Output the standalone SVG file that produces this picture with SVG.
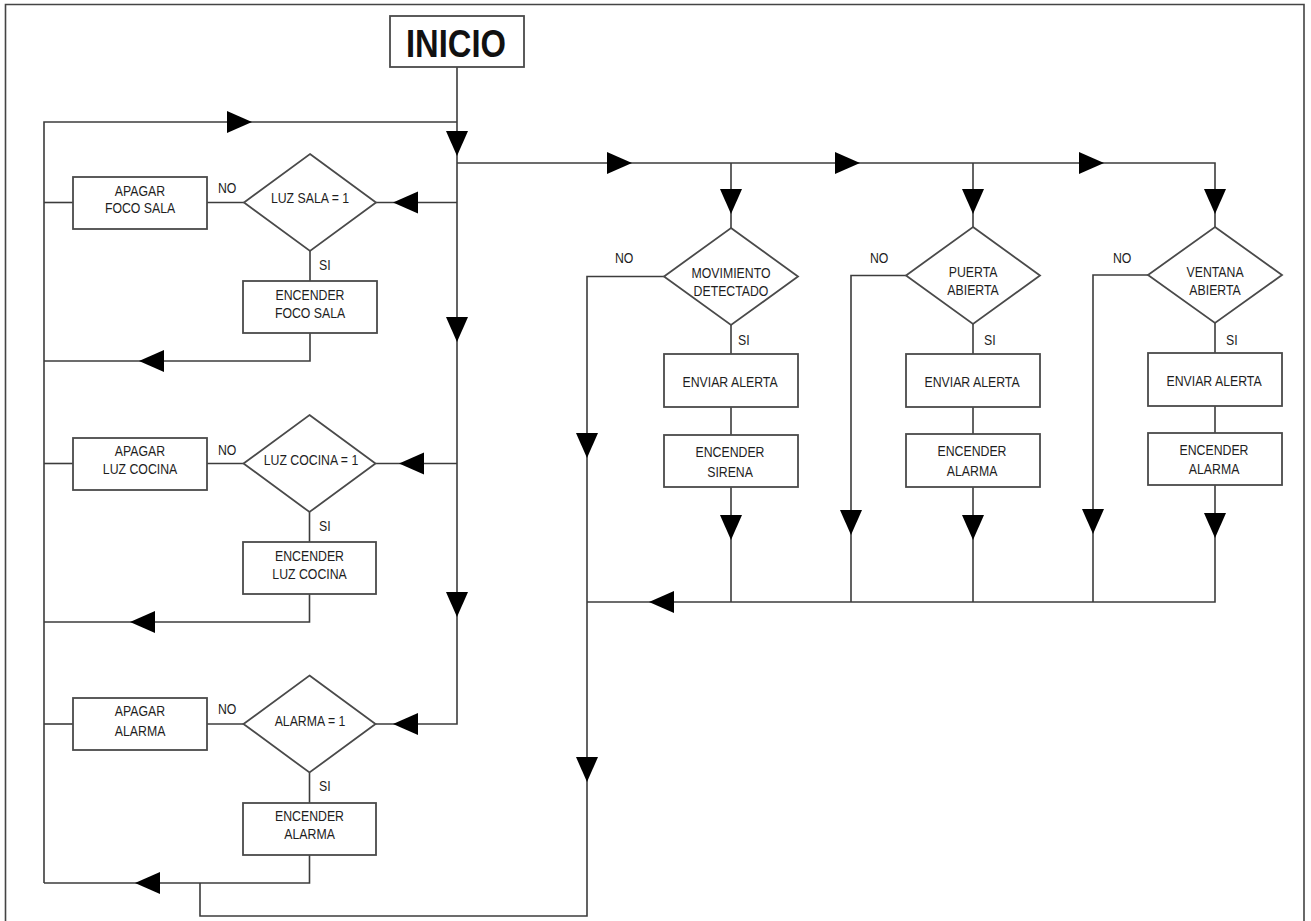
<svg xmlns="http://www.w3.org/2000/svg" xmlns:xlink="http://www.w3.org/1999/xlink" width="1311" height="921" viewBox="0 0 1311 921">
  <style>
    .frame { fill: none; stroke: #444; stroke-width: 1.6; }
    .box { fill: #fff; stroke: #4a4a4a; stroke-width: 1.8; }
    .wire { fill: none; stroke: #3c3c3c; stroke-width: 1.6; }
    .lbl, .tag { font-family: "Liberation Sans", Arial, sans-serif; font-size: 15px; fill: #1e1e1e;
                 transform: scaleX(0.82); transform-box: fill-box; }
    .lbl { text-anchor: middle; transform-origin: center; }
    .tag { text-anchor: start; transform-origin: left center; }
    .title { font-family: "Liberation Sans", Arial, sans-serif; font-size: 39px; font-weight: bold; fill: #111; text-anchor: middle; }
  </style>
  <defs>
    <!-- filled arrowhead, tip at origin, pointing along +x -->
    <path id="ah" d="M0,0 L-25,-11 L-25,11 Z" fill="#000"/>
  </defs>
  <rect width="1311" height="921" fill="#fff"/>
  <path class="frame" d="M5.5,921 V4.5 H1304 V921"/>

  <!-- connectors -->
  <g id="connectors">
    <path class="wire" d="M457,67 V724 H375.5"/>
    <path class="wire" d="M44,883 V122 H457"/>
    <path class="wire" d="M457,163 H1215 V227"/>
    <path class="wire" d="M731,163 V228"/>
    <path class="wire" d="M973,163 V227"/>
    <!-- sala -->
    <path class="wire" d="M457,202.5 H376"/>
    <path class="wire" d="M244,202.5 H207"/>
    <path class="wire" d="M73,202.5 H44"/>
    <path class="wire" d="M310,251 V281"/>
    <path class="wire" d="M310,333 V361 H44"/>
    <!-- cocina -->
    <path class="wire" d="M457,463.5 H375.5"/>
    <path class="wire" d="M243.5,463.5 H207"/>
    <path class="wire" d="M73,463.5 H44"/>
    <path class="wire" d="M309.5,512 V542"/>
    <path class="wire" d="M309.5,594 V622 H44"/>
    <!-- alarma -->
    <path class="wire" d="M243.5,724 H207"/>
    <path class="wire" d="M73,724 H44"/>
    <path class="wire" d="M309.5,772.5 V803"/>
    <path class="wire" d="M309.5,855 V883 H44"/>
    <!-- return to sensors column -->
    <path class="wire" d="M200,883 V916 H587 V276.5 H664"/>
    <!-- movimiento -->
    <path class="wire" d="M731,325 V354"/>
    <path class="wire" d="M731,407 V435"/>
    <path class="wire" d="M731,487 V602"/>
    <!-- puerta -->
    <path class="wire" d="M906,275.5 H851 V602"/>
    <path class="wire" d="M973,324 V354"/>
    <path class="wire" d="M973,407 V434"/>
    <path class="wire" d="M973,487 V602"/>
    <!-- ventana -->
    <path class="wire" d="M1148,275 H1093 V602"/>
    <path class="wire" d="M1215,323 V353"/>
    <path class="wire" d="M1215,406 V433"/>
    <path class="wire" d="M1215,485 V602 H587"/>

    <!-- arrowheads -->
    <use xlink:href="#ah" transform="translate(252,122)"/>
    <use xlink:href="#ah" transform="translate(457,156) rotate(90)"/>
    <use xlink:href="#ah" transform="translate(632,163)"/>
    <use xlink:href="#ah" transform="translate(860,163)"/>
    <use xlink:href="#ah" transform="translate(1104,163)"/>
    <use xlink:href="#ah" transform="translate(731,214) rotate(90)"/>
    <use xlink:href="#ah" transform="translate(973,214) rotate(90)"/>
    <use xlink:href="#ah" transform="translate(1215,214) rotate(90)"/>
    <use xlink:href="#ah" transform="translate(393,202.5) rotate(180)"/>
    <use xlink:href="#ah" transform="translate(457,342) rotate(90)"/>
    <use xlink:href="#ah" transform="translate(139,361) rotate(180)"/>
    <use xlink:href="#ah" transform="translate(399,463.5) rotate(180)"/>
    <use xlink:href="#ah" transform="translate(130,622) rotate(180)"/>
    <use xlink:href="#ah" transform="translate(457,617) rotate(90)"/>
    <use xlink:href="#ah" transform="translate(393,724) rotate(180)"/>
    <use xlink:href="#ah" transform="translate(135,883) rotate(180)"/>
    <use xlink:href="#ah" transform="translate(587,458) rotate(90)"/>
    <use xlink:href="#ah" transform="translate(587,782) rotate(90)"/>
    <use xlink:href="#ah" transform="translate(731,540) rotate(90)"/>
    <use xlink:href="#ah" transform="translate(851,535) rotate(90)"/>
    <use xlink:href="#ah" transform="translate(973,540) rotate(90)"/>
    <use xlink:href="#ah" transform="translate(1093,534) rotate(90)"/>
    <use xlink:href="#ah" transform="translate(1215,538) rotate(90)"/>
    <use xlink:href="#ah" transform="translate(649,602) rotate(180)"/>
  </g>

  <!-- start -->
  <g id="inicio">
    <rect class="box" x="390" y="16" width="134" height="51"/>
    <text class="title" x="456" y="57" textLength="100" lengthAdjust="spacingAndGlyphs">INICIO</text>
  </g>

  <!-- living-room light -->
  <g id="dec-luz-sala">
    <polygon class="box" points="310,154 376,202.5 310,251 244,202.5"/>
    <text class="lbl" x="310" y="203">LUZ SALA = 1</text>
    <text class="tag" x="218" y="193">NO</text>
    <text class="tag" x="319" y="270">SI</text>
  </g>
  <g id="apagar-foco-sala">
    <rect class="box" x="73" y="177" width="134" height="52"/>
    <text class="lbl" x="140" y="196">APAGAR</text>
    <text class="lbl" x="140" y="213">FOCO SALA</text>
  </g>
  <g id="encender-foco-sala">
    <rect class="box" x="243" y="281" width="134" height="52"/>
    <text class="lbl" x="310" y="300">ENCENDER</text>
    <text class="lbl" x="310" y="318">FOCO SALA</text>
  </g>

  <!-- kitchen light -->
  <g id="dec-luz-cocina">
    <polygon class="box" points="309.5,415 375.5,463.5 309.5,512 243.5,463.5"/>
    <text class="lbl" x="311" y="465">LUZ COCINA = 1</text>
    <text class="tag" x="218" y="455">NO</text>
    <text class="tag" x="319" y="531">SI</text>
  </g>
  <g id="apagar-luz-cocina">
    <rect class="box" x="73" y="438" width="134" height="52"/>
    <text class="lbl" x="140" y="456">APAGAR</text>
    <text class="lbl" x="140" y="474">LUZ COCINA</text>
  </g>
  <g id="encender-luz-cocina">
    <rect class="box" x="243" y="542" width="133" height="52"/>
    <text class="lbl" x="309.5" y="561">ENCENDER</text>
    <text class="lbl" x="309.5" y="579">LUZ COCINA</text>
  </g>

  <!-- alarm -->
  <g id="dec-alarma">
    <polygon class="box" points="309.5,675.5 375.5,724 309.5,772.5 243.5,724"/>
    <text class="lbl" x="310" y="726">ALARMA = 1</text>
    <text class="tag" x="218" y="714">NO</text>
    <text class="tag" x="319" y="791">SI</text>
  </g>
  <g id="apagar-alarma">
    <rect class="box" x="73" y="698" width="134" height="52"/>
    <text class="lbl" x="140" y="716">APAGAR</text>
    <text class="lbl" x="140" y="736">ALARMA</text>
  </g>
  <g id="encender-alarma">
    <rect class="box" x="243" y="803" width="133" height="52"/>
    <text class="lbl" x="309.5" y="821">ENCENDER</text>
    <text class="lbl" x="309.5" y="839">ALARMA</text>
  </g>

  <!-- motion sensor -->
  <g id="dec-movimiento">
    <polygon class="box" points="731,228 798,276.5 731,325 664,276.5"/>
    <text class="lbl" x="731" y="278">MOVIMIENTO</text>
    <text class="lbl" x="731" y="296">DETECTADO</text>
    <text class="tag" x="615" y="263">NO</text>
    <text class="tag" x="738" y="345">SI</text>
  </g>
  <g id="mov-enviar-alerta">
    <rect class="box" x="664" y="354" width="134" height="53"/>
    <text class="lbl" x="730" y="387">ENVIAR ALERTA</text>
  </g>
  <g id="mov-encender-sirena">
    <rect class="box" x="664" y="435" width="134" height="52"/>
    <text class="lbl" x="730" y="457">ENCENDER</text>
    <text class="lbl" x="730" y="477">SIRENA</text>
  </g>

  <!-- door sensor -->
  <g id="dec-puerta">
    <polygon class="box" points="973,227 1040,275.5 973,324 906,275.5"/>
    <text class="lbl" x="973" y="277">PUERTA</text>
    <text class="lbl" x="973" y="295">ABIERTA</text>
    <text class="tag" x="870" y="263">NO</text>
    <text class="tag" x="984" y="345">SI</text>
  </g>
  <g id="puerta-enviar-alerta">
    <rect class="box" x="906" y="354" width="134" height="53"/>
    <text class="lbl" x="972" y="387">ENVIAR ALERTA</text>
  </g>
  <g id="puerta-encender-alarma">
    <rect class="box" x="906" y="434" width="134" height="53"/>
    <text class="lbl" x="972" y="456">ENCENDER</text>
    <text class="lbl" x="972" y="476">ALARMA</text>
  </g>

  <!-- window sensor -->
  <g id="dec-ventana">
    <polygon class="box" points="1215,227 1282,275 1215,323 1148,275"/>
    <text class="lbl" x="1215" y="277">VENTANA</text>
    <text class="lbl" x="1215" y="295">ABIERTA</text>
    <text class="tag" x="1113" y="263">NO</text>
    <text class="tag" x="1226" y="345">SI</text>
  </g>
  <g id="ventana-enviar-alerta">
    <rect class="box" x="1148" y="353" width="134" height="53"/>
    <text class="lbl" x="1214" y="386">ENVIAR ALERTA</text>
  </g>
  <g id="ventana-encender-alarma">
    <rect class="box" x="1148" y="433" width="134" height="52"/>
    <text class="lbl" x="1214" y="455">ENCENDER</text>
    <text class="lbl" x="1214" y="474">ALARMA</text>
  </g>
</svg>
